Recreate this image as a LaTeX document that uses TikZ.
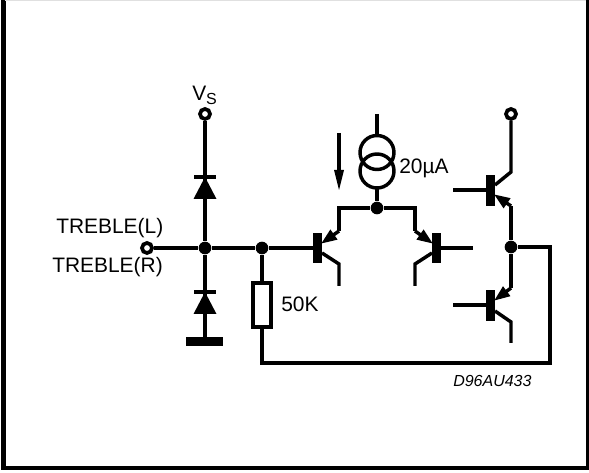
\documentclass[tikz,border=0pt]{standalone}
\usepackage{fontspec}
\setmainfont{Liberation Sans}
\usetikzlibrary{arrows.meta}
\tikzset{
    wire/.style={line width=2.6pt},
    terminal/.style={circle,draw,line width=2.8pt,fill=white,inner sep=0pt,minimum size=7.5pt},
    junction/.style={circle,fill,inner sep=0pt,minimum size=9.5pt},
    emitter/.style={line width=2.6pt,-{Triangle[length=12pt,width=8.5pt]},shorten >=-1pt},
    lab/.style={inner sep=0pt,font=\fontsize{15.7}{18}\selectfont},
}
\begin{document}
\begin{tikzpicture}[x=0.75pt,y=-0.75pt]
    \useasboundingbox (0,0) rectangle (589,473);
    \clip (0,0) rectangle (589,473);
    \draw [line width=3.4pt] (3.5,-5) -- (3.5,468) -- (588,468) -- (588,-5);
    \draw [line width=0.75pt,black!12] (5,0.5) -- (586,0.5);

    \coordinate (gnd) at (205,341);
    \node [terminal] (vs) at (205,114) {};
    \node [terminal] (in) at (147,248) {};
    \node [junction] (nodea) at (205,248) {};
    \node [junction] (nodeb) at (262,248) {};
    \node [junction] (tail) at (377,208) {};
    \node [junction] (outp) at (511,247) {};
    \node [terminal] (vcc) at (511,114) {};

    \draw [wire] (vs) -- (nodea) -- (gnd);
    \draw [wire] (in) -- (nodea) -- (nodeb) -- (313,248);
    \fill (186,337) rectangle (223,346);

    \fill (194,175.5) rectangle (216,179);
    \fill (205,177) -- (193.5,199) -- (216.5,199) -- cycle;
    \fill (194,290.5) rectangle (216,294);
    \fill (205,292) -- (193.5,314) -- (216.5,314) -- cycle;

    \node [draw,wire,fill=white,minimum height=33pt,minimum width=13.5pt,inner sep=0pt] (rload) at (262,305) {};
    \coordinate (rcorner) at (262,363);
    \coordinate (outcorner) at (550,363);
    \coordinate (outtop) at (550,247);
    \draw [wire] (nodeb) -- (rload);
    \draw [wire] (rload) -- (rcorner) -- (outcorner) -- (outtop) -- (outp);

    \draw [wire] (377,114) -- (377,135);
    \draw [wire] (377,152.5) circle (17);
    \draw [wire] (377,171) circle (17);
    \draw [wire] (377,188) -- (tail);

    \draw [line width=2.4pt] (339,133) -- (339,172);
    \fill (339,190) -- (334,170) -- (344,170) -- cycle;

    \fill (313,233) rectangle (322,263);
    \draw [emitter] (339,231) -- (322,243);
    \draw [wire] (339,231) -- (339,208) -- (tail) -- (415,208) -- (415,231);
    \draw [wire] (322,253) -- (339,264) -- (339,286);

    \fill (432,233) rectangle (441,263);
    \draw [wire] (441,248) -- (473,248);
    \draw [emitter] (415,231) -- (432,243);
    \draw [wire] (432,253) -- (415,264) -- (415,286);

    \fill (486,175) rectangle (495,206);
    \draw [wire] (453,190) -- (486,190);
    \draw [wire] (vcc) -- (511,172) -- (495,185);
    \draw [wire] (outp) -- (511,206);
    \draw [emitter] (511,206) -- (495,195);

    \fill (486,290) rectangle (495,321);
    \draw [wire] (453,305) -- (486,305);
    \draw [wire] (outp) -- (511,288);
    \draw [emitter] (511,288) -- (495,300);
    \draw [wire] (495,311) -- (511,322) -- (511,343);

    \node [lab,anchor=base west] (lblvs) at (192,101) {V\raisebox{-0.35ex}{\fontsize{12}{14}\selectfont S}};
    \node [lab,anchor=base west] (lbll) at (56,234) {TREBLE(L)};
    \node [lab,anchor=base west] (lblr) at (52,273) {TREBLE(R)};
    \node [lab,anchor=base west] (lblr2) at (281,312) {50K};
    \node [lab,anchor=base west] (lblamp) at (399,174) {20µA};
    \node [inner sep=0pt,anchor=base west,font=\fontsize{12}{14}\selectfont\itshape] (lblcode) at (453,387) {D96AU433};
\end{tikzpicture}
\end{document}
